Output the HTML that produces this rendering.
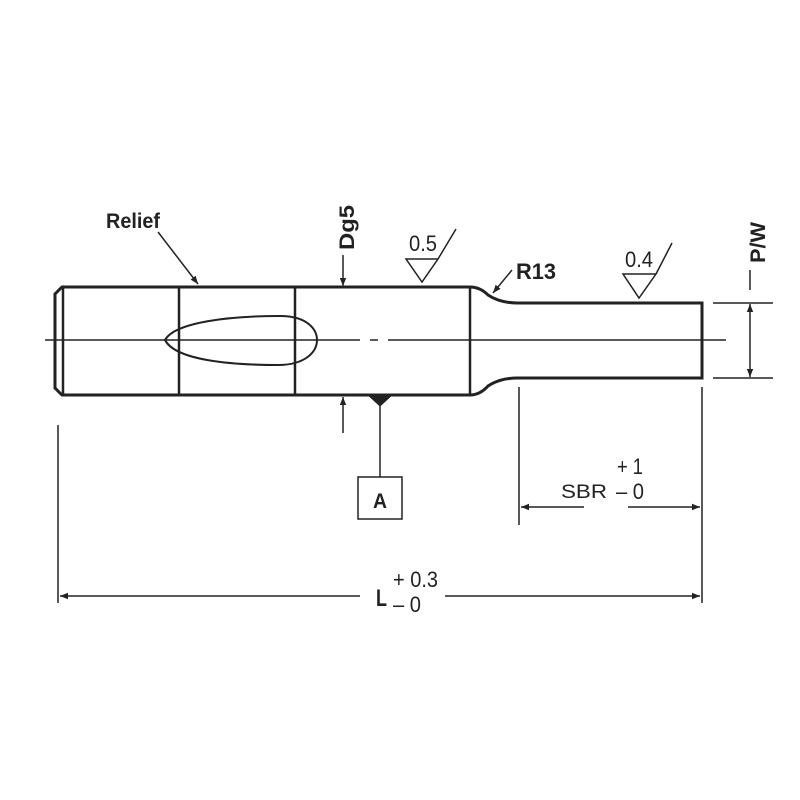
<!DOCTYPE html>
<html><head><meta charset="utf-8"><style>
html,body{margin:0;padding:0;background:#fff;}
svg{display:block}
.t{font-family:"Liberation Sans",sans-serif;fill:#222;}
</style></head><body>
<svg width="800" height="800" viewBox="0 0 800 800" xmlns="http://www.w3.org/2000/svg">
<defs>
<marker id="a" viewBox="0 0 10 10" refX="10" refY="5" markerWidth="16" markerHeight="8" markerUnits="userSpaceOnUse" orient="auto-start-reverse"><path d="M0,1 L10,5 L0,9 Z" fill="#222"/></marker>
</defs>
<g stroke="#222" fill="none">
<path d="M62,287 L470,287 Q480,287 488,295 Q500,303 518,303 L702,303 L702,378 L518,378 Q500,378 488,386 Q480,395 470,395 L62,395 L55,388 L55,294 Z" stroke-width="3"/>
<line x1="63" y1="288" x2="63" y2="394" stroke-width="2.5"/>
<line x1="179" y1="287" x2="179" y2="395" stroke-width="2.5"/>
<line x1="295" y1="287" x2="295" y2="395" stroke-width="2.5"/>
<line x1="470" y1="287" x2="470" y2="395" stroke-width="2.5"/>
<path d="M165,340 C175,322 230,316 280,316 C308,316 317,330 317,340 C317,352 305,365 278,365 C230,365 175,360 165,340 Z" stroke-width="2"/>
<line x1="45" y1="340" x2="360" y2="340" stroke-width="1.5"/>
<line x1="370" y1="340" x2="378" y2="340" stroke-width="1.5"/>
<line x1="388" y1="340" x2="726" y2="340" stroke-width="1.5"/>
<line x1="158" y1="232" x2="198" y2="284" stroke-width="1.5" marker-end="url(#a)"/>
<line x1="343" y1="255" x2="343" y2="286" stroke-width="1.5" marker-end="url(#a)"/>
<line x1="343" y1="433" x2="343" y2="397" stroke-width="1.5" marker-end="url(#a)"/>
<path d="M406,259 L438,259 L422,282 Z M438,259 L456,229" stroke-width="1.5"/>
<path d="M623,274 L656,274 L639,298 Z M656,274 L672,243" stroke-width="1.5"/>
<line x1="512" y1="270" x2="493" y2="293" stroke-width="1.5" marker-end="url(#a)"/>
<line x1="713" y1="303" x2="773" y2="303" stroke-width="1.5"/>
<line x1="713" y1="378" x2="773" y2="378" stroke-width="1.5"/>
<line x1="750" y1="270" x2="750" y2="290" stroke-width="1.5"/>
<line x1="750" y1="340" x2="750" y2="304" stroke-width="1.5" marker-end="url(#a)"/>
<line x1="750" y1="340" x2="750" y2="377" stroke-width="1.5" marker-end="url(#a)"/>
<path d="M368,395 L392,395 L380,406 Z" fill="#222" stroke-width="1"/>
<line x1="380" y1="405" x2="380" y2="477" stroke-width="1.5"/>
<rect x="358" y="477" width="44" height="42" stroke-width="1.5"/>
<line x1="519" y1="387" x2="519" y2="525" stroke-width="1.5"/>
<line x1="702" y1="387" x2="702" y2="603" stroke-width="1.5"/>
<line x1="584" y1="507" x2="521" y2="507" stroke-width="1.5" marker-end="url(#a)"/>
<line x1="628" y1="507" x2="700" y2="507" stroke-width="1.5" marker-end="url(#a)"/>
<line x1="58" y1="425" x2="58" y2="603" stroke-width="1.5"/>
<line x1="360" y1="596" x2="60" y2="596" stroke-width="1.5" marker-end="url(#a)"/>
<line x1="445" y1="596" x2="700" y2="596" stroke-width="1.5" marker-end="url(#a)"/>
</g>
<text class="t" x="106" y="228" font-size="21" font-weight="bold" textLength="54" lengthAdjust="spacingAndGlyphs">Relief</text>
<text class="t" font-size="21" font-weight="bold" transform="translate(354,250) rotate(-90)" textLength="45" lengthAdjust="spacingAndGlyphs">Dg5</text>
<text class="t" x="409" y="251" font-size="22" textLength="28" lengthAdjust="spacingAndGlyphs">0.5</text>
<text class="t" x="625" y="267" font-size="22" textLength="28" lengthAdjust="spacingAndGlyphs">0.4</text>
<text class="t" x="516" y="279" font-size="22" font-weight="bold" textLength="40" lengthAdjust="spacingAndGlyphs">R13</text>
<text class="t" font-size="21" font-weight="bold" transform="translate(765,263) rotate(-90)" textLength="41" lengthAdjust="spacingAndGlyphs">P/W</text>
<text class="t" x="373" y="508" font-size="21" font-weight="bold" textLength="14" lengthAdjust="spacingAndGlyphs">A</text>
<text x="561" y="498" font-size="19" font-family="Liberation Sans, sans-serif" fill="#222" textLength="46" lengthAdjust="spacingAndGlyphs">SBR</text>
<text class="t" x="617" y="474" font-size="22" textLength="26" lengthAdjust="spacingAndGlyphs">+ 1</text>
<text class="t" x="616" y="499" font-size="22" textLength="28" lengthAdjust="spacingAndGlyphs">– 0</text>
<text class="t" x="376" y="606" font-size="24" font-weight="bold" textLength="11" lengthAdjust="spacingAndGlyphs">L</text>
<text class="t" x="393" y="587" font-size="22" textLength="45" lengthAdjust="spacingAndGlyphs">+ 0.3</text>
<text class="t" x="393" y="612" font-size="22" textLength="28" lengthAdjust="spacingAndGlyphs">– 0</text>
</svg>
</body></html>
